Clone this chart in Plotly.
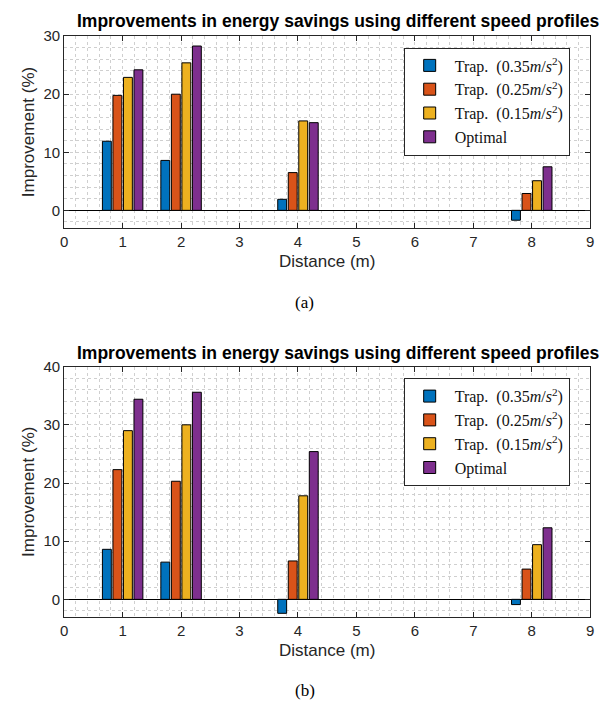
import plotly.graph_objects as go

# ---------------- data ----------------
distances = [1, 2, 4, 8]
series_names = [
    "Trap.&nbsp; (0.35<i>m</i>/<i>s</i><sup>2</sup>)",
    "Trap.&nbsp; (0.25<i>m</i>/<i>s</i><sup>2</sup>)",
    "Trap.&nbsp; (0.15<i>m</i>/<i>s</i><sup>2</sup>)",
    "Optimal",
]
colors = ["#0072BD", "#D95319", "#EDB120", "#7E2F8E"]

# (a)
a_trap035 = [11.9, 8.6, 1.9, -1.7]
a_trap025 = [19.8, 20.0, 6.5, 2.9]
a_trap015 = [22.9, 25.4, 15.4, 5.1]
a_optimal = [24.2, 28.3, 15.1, 7.5]

# (b)
b_trap035 = [8.6, 6.4, -2.4, -0.9]
b_trap025 = [22.3, 20.3, 6.6, 5.2]
b_trap015 = [29.0, 30.0, 17.8, 9.4]
b_optimal = [34.4, 35.6, 25.4, 12.3]

x_ticks = [0, 1, 2, 3, 4, 5, 6, 7, 8, 9]
a_yticks = [0, 10, 20, 30]
b_yticks = [0, 10, 20, 30, 40]

title_text = "Improvements in energy savings using different speed profiles"

# ---------------- figure ----------------
W, H = 609, 702
fig = go.Figure()

a_series = [a_trap035, a_trap025, a_trap015, a_optimal]
b_series = [b_trap035, b_trap025, b_trap015, b_optimal]

for name, vals, c in zip(series_names, a_series, colors):
    fig.add_trace(go.Bar(x=distances, y=vals, name=name, marker=dict(color=c, line=dict(color="black", width=1)),
                         xaxis="x", yaxis="y", legend="legend", showlegend=True))
for name, vals, c in zip(series_names, b_series, colors):
    fig.add_trace(go.Bar(x=distances, y=vals, name=name, marker=dict(color=c, line=dict(color="black", width=1)),
                         xaxis="x2", yaxis="y2", legend="legend2", showlegend=True))

def py(px):
    return 1 - px / H

def pxx(px):
    return px / W

axis_col = "#262626"
grid_col = "#cfcfcf"
tickfont = dict(family="Liberation Sans, Arial", size=15, color=axis_col)
labelfont = dict(family="Liberation Sans, Arial", size=17, color=axis_col)

def xaxis_common(anchor):
    return dict(
        domain=[pxx(61), pxx(594)], anchor=anchor, range=[0, 9],
        tickmode="array", tickvals=x_ticks, ticks="inside", ticklen=5, tickcolor=axis_col,
        showline=True, linecolor=axis_col, linewidth=1, mirror="ticks",
        showgrid=True, gridcolor=grid_col, griddash="dot", gridwidth=1,
        minor=dict(dtick=0.2, showgrid=True, gridcolor=grid_col, griddash="dot", gridwidth=1),
        zeroline=False, tickfont=tickfont,
        title=dict(text="Distance (m)", font=labelfont, standoff=6),
    )

def yaxis_common(anchor, rng, ticks, dom):
    return dict(
        domain=dom, anchor=anchor, range=rng,
        tickmode="array", tickvals=ticks, ticks="inside", ticklen=5, tickcolor=axis_col,
        showline=True, linecolor=axis_col, linewidth=1, mirror="ticks",
        showgrid=True, gridcolor=grid_col, griddash="dot", gridwidth=1,
        minor=dict(dtick=2, showgrid=True, gridcolor=grid_col, griddash="dot", gridwidth=1),
        zeroline=True, zerolinecolor="black", zerolinewidth=1,
        tickfont=tickfont,
        title=dict(text="Improvement (%)", font=labelfont, standoff=4),
    )

legend_common = dict(
    bgcolor="white", bordercolor=axis_col, borderwidth=1,
    font=dict(family="Liberation Serif, Times New Roman", size=16, color="#111"),
    xanchor="left", yanchor="top", tracegroupgap=0, itemwidth=40,
)

title_font = dict(family="Liberation Sans, Arial", size=17.5, color="black")

fig.update_layout(
    width=W, height=H,
    margin=dict(l=0, r=0, t=0, b=0),
    paper_bgcolor="white", plot_bgcolor="white",
    barmode="group", bargap=0.28, bargroupgap=0.155,
    xaxis=xaxis_common("y"),
    yaxis=yaxis_common("x", [-3, 30], a_yticks, [py(221.6), py(27.5)]),
    xaxis2=xaxis_common("y2"),
    yaxis2=yaxis_common("x2", [-3, 40], b_yticks, [py(615.7), py(362.3)]),
    legend=dict(x=pxx(405), y=py(39), **legend_common),
    legend2=dict(x=pxx(405), y=py(374), **legend_common),
    annotations=[
        dict(text="<b>" + title_text + "</b>", xref="paper", yref="paper", x=pxx(72), y=py(12),
             xanchor="left", yanchor="middle", showarrow=False, font=title_font),
        dict(text="<b>" + title_text + "</b>", xref="paper", yref="paper", x=pxx(72), y=py(348),
             xanchor="left", yanchor="middle", showarrow=False, font=title_font),
        dict(text="(a)", xref="paper", yref="paper", x=pxx(305), y=py(297),
             xanchor="center", yanchor="middle", showarrow=False,
             font=dict(family="Liberation Serif, Times New Roman", size=17, color="black")),
        dict(text="(b)", xref="paper", yref="paper", x=pxx(305), y=py(690),
             xanchor="center", yanchor="middle", showarrow=False,
             font=dict(family="Liberation Serif, Times New Roman", size=17, color="black")),
    ],
)

fig.write_html("out.html")
